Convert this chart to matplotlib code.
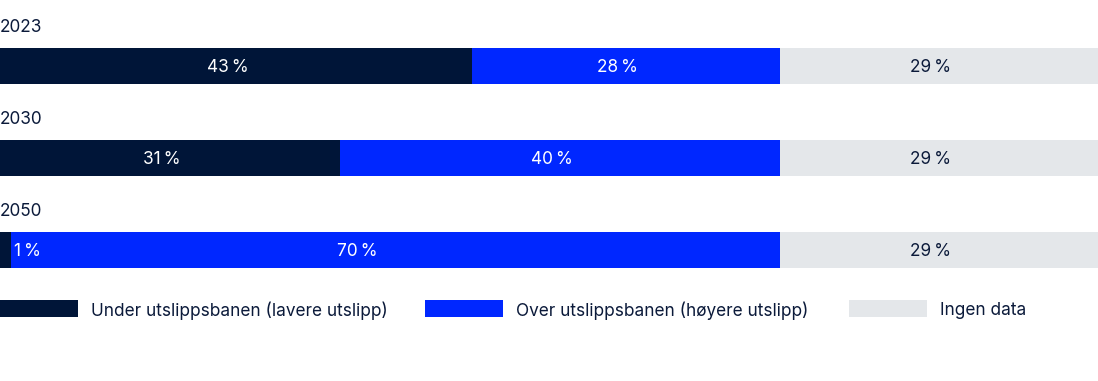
import matplotlib.pyplot as plt
from matplotlib.patches import Rectangle

years = ["2023", "2030", "2050"]
under = [43, 31, 1]
over = [28, 40, 70]
no_data = [29, 29, 29]
series_names = ["Under utslippsbanen (lavere utslipp)",
                "Over utslippsbanen (høyere utslipp)",
                "Ingen data"]

navy = "#001538"
blue = "#0027ff"
grey = "#e4e7ea"
text_dark = "#0b1a3a"
colors = [navy, blue, grey]
label_colors = ["white", "white", text_dark]

plt.rcParams["font.family"] = ["Inter", "DejaVu Sans"]
fs = 12.4

W, H = 1098, 381
fig = plt.figure(figsize=(W / 100, H / 100), dpi=100)
ax = fig.add_axes([0, 0, 1, 1])
ax.set_xlim(0, 100)
ax.set_ylim(H, 0)
ax.axis("off")

px = 100 / W  # one pixel in x data units
bar_y = [66, 158, 250]
bar_h = 36

for i, year in enumerate(years):
    y = bar_y[i]
    ax.text(0, y - 38, year, fontsize=fs, color=text_dark, va="center", ha="left")
    left = 0
    for j, vals in enumerate([under, over, no_data]):
        v = vals[i]
        ax.barh(y, v, left=left, height=bar_h, color=colors[j], linewidth=0)
        label = f"{v}\u2009%"
        if v < 5:
            ax.text(left + v + 3 * px, y + 1.5, label, fontsize=fs,
                    color="white", va="center", ha="left")
        else:
            cx = left + v / 2 - 8 * px
            if v == 70:
                cx = left + v / 2 - 38 * px
            ax.text(cx, y + 1.5, label, fontsize=fs,
                    color=label_colors[j], va="center", ha="center")
        left += v

legend_x = [0, 425, 849]
for j, name in enumerate(series_names):
    x0 = legend_x[j] * px
    ax.add_patch(Rectangle((x0, 300), 78 * px, 17, color=colors[j], linewidth=0))
    ax.text(x0 + 91 * px, 310.5, name, fontsize=fs, color=text_dark,
            va="center", ha="left")

fig.savefig("out.png", dpi=100, facecolor="white")
